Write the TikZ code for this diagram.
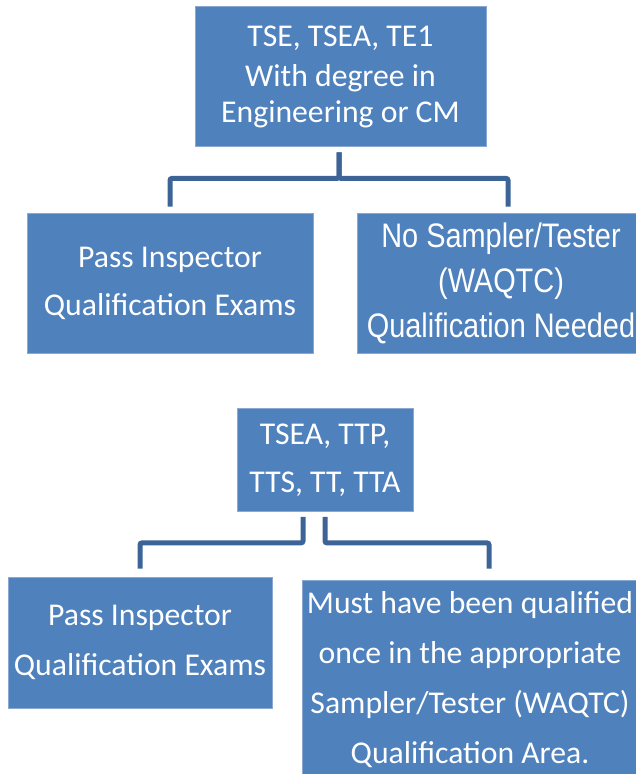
\documentclass[tikz,border=0pt]{standalone}
\usepackage{fontspec}
\setmainfont{Carlito}
\newfontfamily\narrowfont[FakeStretch=0.85]{Liberation Sans}
\definecolor{boxblue}{HTML}{4F81BD}
\definecolor{linkblue}{HTML}{3C6496}
\definecolor{rimblue}{HTML}{8AA8D2}

\begin{document}
\begin{tikzpicture}[x=1pt,y=-1pt,
    link/.style={draw=linkblue,line width=5pt,rounded corners=2pt}]
\useasboundingbox (0,0) rectangle (636,774);

\begin{scope}[every node/.style={rectangle,draw=rimblue,line width=0.8pt,fill=boxblue,text=white,
              align=center,inner sep=0pt,font=\fontsize{31.7}{48}\selectfont}]
    \node (T1)[minimum width=291pt,minimum height=140pt,font=\fontsize{31.7}{36}\selectfont]
        at (340.5,76.5) {TSE, TSEA, TE1\\[4pt]With degree in\\Engineering or CM};
    \node (L1)[minimum width=286pt,minimum height=140pt] at (170,283) {Pass Inspector\\Qualification Exams};
    \node (R1)[minimum width=288pt,minimum height=140pt,font=\narrowfont\fontsize{34}{45}\selectfont]
        at (501,283) {No Sampler/Tester\\(WAQTC)\\Qualification Needed};
    \node (M2)[minimum width=176pt,minimum height=103pt] at (325,460) {TSEA, TTP,\\TTS, TT, TTA};
    \node (L2)[minimum width=264pt,minimum height=131pt,font=\fontsize{31.7}{50}\selectfont]
        at (140,642.5) {Pass Inspector\\Qualification Exams};
    \node (R2)[minimum width=336pt,minimum height=200pt,font=\fontsize{31.7}{50}\selectfont]
        at (470,680) {Must have been qualified\\once in the appropriate\\Sampler/Tester (WAQTC)\\Qualification Area.};
\end{scope}

\begin{scope}
    \draw[link] ([xshift=-1.5pt,yshift=-5.5pt]T1.south) -- ++(0,26) -| ([yshift=6pt]L1.north);
    \draw[link] ([xshift=-1.5pt,yshift=-5.5pt]T1.south) -- ++(0,26) -| ([xshift=7pt,yshift=6pt]R1.north);
    \draw[link] ([xshift=-22pt,yshift=-5pt]M2.south) -- ++(0,26) -| ([yshift=8pt]L2.north);
    \draw[link] ([yshift=-5pt]M2.south) -- ++(0,26) -| ([xshift=19pt,yshift=11pt]R2.north);
\end{scope}
\end{tikzpicture}
\end{document}
